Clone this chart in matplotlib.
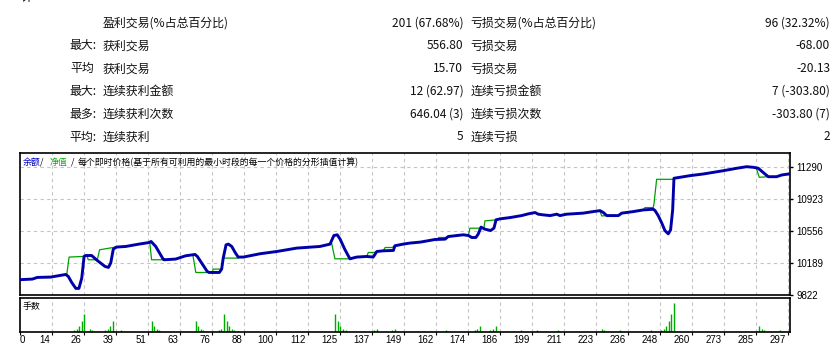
import numpy as np
import matplotlib
matplotlib.use("Agg")
import matplotlib.pyplot as plt

plt.rcParams['font.family'] = ['Noto Sans CJK SC', 'DejaVu Sans']

# ---- report table ----
row_head = ["", "最大:", "平均", "最大:", "最多:", "平均:"]
win_names = ["盈利交易(%占总百分比)", "获利交易", "获利交易", "连续获利金额", "连续获利次数", "连续获利"]
win_values = ["201 (67.68%)", "556.80", "15.70", "12 (62.97)", "646.04 (3)", "5"]
loss_names = ["亏损交易(%占总百分比)", "亏损交易", "亏损交易", "连续亏损金额", "连续亏损次数", "连续亏损"]
loss_values = ["96 (32.32%)", "-68.00", "-20.13", "7 (-303.80)", "-303.80 (7)", "2"]

# ---- balance curve (trade number, value) ----
bal_idx = [0, 4.9, 6.8, 12.0, 17.8, 18.8, 20.1, 21.7, 22.9, 24.0, 24.9, 25.5, 27.8, 30.0, 33.0,
           34.3, 35.2, 36.2, 37.4, 41.0, 46.1, 50.0, 50.8, 52.6, 55.4, 55.8, 60.3, 64.2, 67.8,
           68.7, 72.5, 73.2, 77.2, 78.1, 78.7, 79.8, 80.7, 82.0, 83.3, 84.5, 86.5, 92.9, 99.4,
           107.1, 116.1, 120.0, 121.5, 122.8, 123.9, 125.8, 127.7, 130.3, 134.2, 136.7, 138.1,
           140.6, 144.5, 145.1, 148.3, 150.9, 154.9, 160.6, 164.5, 165.7, 171.5, 173.5, 174.8,
           176.4, 177.3, 178.4, 179.9, 182.1, 183.4, 184.2, 185.7, 189.6, 194.1, 196.7, 199.3,
           200.5, 202.5, 205.1, 207.7, 208.9, 211.5, 217.9, 221.8, 224.4, 225.7, 227.0, 231.5,
           232.8, 237.3, 241.1, 245.0, 245.7, 246.9, 248.3, 249.5, 250.8, 251.7, 252.5, 253.0,
           255.3, 259.2, 264.3, 272.1, 277.3, 281.1, 283.7, 285.6, 288.2, 289.5, 292.7, 294.7, 297.3]
bal_val = [9998, 10005, 10024, 10028, 10058, 10035, 9967, 9898, 9898, 10017, 10265, 10276, 10276,
           10219, 10150, 10139, 10189, 10350, 10373, 10380, 10407, 10425, 10437, 10380, 10238,
           10227, 10235, 10273, 10288, 10265, 10093, 10081, 10081, 10120, 10246, 10399, 10407,
           10380, 10311, 10258, 10258, 10296, 10322, 10361, 10380, 10407, 10506, 10514, 10464,
           10342, 10238, 10258, 10265, 10258, 10322, 10330, 10334, 10388, 10407, 10419, 10430,
           10460, 10464, 10494, 10514, 10506, 10483, 10483, 10522, 10602, 10579, 10563, 10591,
           10686, 10697, 10712, 10735, 10755, 10770, 10751, 10743, 10735, 10751, 10735, 10751,
           10763, 10781, 10792, 10770, 10735, 10735, 10763, 10781, 10800, 10808, 10792, 10735,
           10648, 10563, 10525, 10571, 10800, 11164, 11175, 11194, 11213, 11251, 11279, 11297,
           11290, 11279, 11213, 11182, 11182, 11202, 11213]

# ---- equity where it leaves the balance line (nan = break) ----
nan = np.nan
eq_idx = [17.8, 18.2, 19.1, 24.2, 24.9, nan,
          26.0, 26.5, 30.0, 30.9, 37.1, nan,
          50.3, 51.0, 55.4, 55.8, nan,
          67.0, 68.1, 73.2, nan,
          74.5, 74.8, 78.1, nan,
          78.7, 84.5, 84.8, nan,
          120.3, 120.6, 121.9, 127.7, nan,
          134.2, 134.8, 137.2, 138.1, nan,
          140.6, 141.3, 144.0, 145.1, nan,
          161.5, 162.0, 165.0, 165.7, nan,
          173.5, 174.1, 178.0, 178.4, nan,
          179.5, 179.9, 184.2, nan,
          224.4, 225.1, 227.0, nan,
          241.1, 241.8, 245.0, 245.3, 246.3, 252.7, 253.0, nan,
          284.8, 286.0, 289.5]
eq_val = [10058, 10058, 10258, 10265, 10265, nan,
          10276, 10227, 10227, 10342, 10373, nan,
          10425, 10227, 10227, 10227, nan,
          10273, 10081, 10081, nan,
          10081, 10120, 10120, nan,
          10246, 10246, 10258, nan,
          10412, 10419, 10238, 10238, nan,
          10265, 10311, 10311, 10322, nan,
          10330, 10368, 10368, 10388, nan,
          10462, 10483, 10483, 10494, nan,
          10506, 10590, 10590, 10602, nan,
          10587, 10674, 10686, nan,
          10781, 10731, 10735, nan,
          10800, 10827, 10827, 10877, 11152, 11152, 11164, nan,
          11282, 11175, 11182]

# ---- lots ----
lot_idx = [21, 22, 23, 24, 25, 27, 28, 33, 34, 35, 36, 39, 51, 52, 53, 54, 68, 69, 70, 71,
           77, 78, 79, 80, 81, 82, 83, 122, 123, 124, 125, 126, 137, 138, 144, 145, 165,
           176, 177, 178, 182, 183, 184, 194, 200, 208, 225, 226, 232, 244, 248, 249, 250,
           251, 252, 253, 286, 287, 288, 294]
lot_val = [0.1, 0.15, 0.3, 0.5, 0.8, 0.15, 0.1, 0.1, 0.15, 0.3, 0.5, 0.1, 0.5, 0.3, 0.15, 0.1,
           0.5, 0.3, 0.15, 0.1, 0.1, 0.15, 0.8, 0.5, 0.3, 0.15, 0.1, 0.8, 0.5, 0.3, 0.15, 0.1,
           0.1, 0.15, 0.1, 0.15, 0.1, 0.1, 0.15, 0.3, 0.1, 0.15, 0.3, 0.1, 0.1, 0.1, 0.15, 0.1,
           0.1, 0.1, 0.1, 0.15, 0.3, 0.5, 0.8, 1.3, 0.3, 0.15, 0.1, 0.1]

x_labels = ["0", "14", "26", "39", "51", "63", "76", "88", "100", "112", "125", "137", "149",
            "162", "174", "186", "199", "211", "223", "236", "248", "260", "273", "285", "297"]
y_ticks = [9822, 10189, 10556, 10923, 11290]

W, H = 839, 352
fig = plt.figure(figsize=(W / 100, H / 100), dpi=100)

# table
rows_y = [22.7, 45.7, 68.7, 91.5, 114.5, 137]
fs = 8.6
txt = '#101010'
fig.text(20 / W, 1 + 2 / H, "计", fontsize=fs, va='center', color=txt)
for i, y in enumerate(rows_y):
    yy = 1 - y / H
    hx = 94.5 if row_head[i] == "平均" else 96.5
    fig.text(hx / W, yy, row_head[i], fontsize=fs, ha='right', va='center', color=txt)
    fig.text(102.7 / W, yy, win_names[i], fontsize=fs, ha='left', va='center', color=txt)
    fig.text(463.3 / W, yy, win_values[i], fontsize=fs, ha='right', va='center', color=txt)
    fig.text(470.7 / W, yy, loss_names[i], fontsize=fs, ha='left', va='center', color=txt)
    fig.text(830 / W, yy, loss_values[i], fontsize=fs, ha='right', va='center', color=txt)

left, right = 19.7, 790
ax = fig.add_axes([left / W, 1 - 295.0 / H, (right - left) / W, (295.0 - 153.3) / H])
ax2 = fig.add_axes([left / W, 1 - 332.3 / H, (right - left) / W, (332.3 - 298.3) / H])

xmax = (right - left) / 2.586
step = 297 / 24
xpos = [k * step for k in range(len(x_labels))]

grid_kw = dict(color='#c4c4c4', lw=0.8, linestyle=(0, (3, 3)), zorder=0)
for a in (ax, ax2):
    a.set_xlim(0, xmax)
    for p in xpos[1:]:
        a.axvline(p, **grid_kw)
    for s in a.spines.values():
        s.set_linewidth(1.2)
        s.set_color('black')
    a.set_xticks([])

for v in y_ticks[1:]:
    ax.axhline(v, **grid_kw)

ax.plot(eq_idx, eq_val, color='#00a000', lw=0.9, zorder=2)
ax.plot(bal_idx, bal_val, color='#0000aa', lw=2.1, zorder=3, solid_joinstyle='round')
ax.set_ylim(9822, 11451)
ax.yaxis.tick_right()
ax.set_yticks(y_ticks)
ax.set_yticklabels([str(v) for v in y_ticks], family='Liberation Sans')
ax.tick_params(axis='y', length=2.2, width=1, pad=2.3, labelsize=7, colors='black')

ax2.vlines(lot_idx, 0, lot_val, color='#00aa00', lw=1.0)
ax2.set_ylim(0, 34 / 22.5)
ax2.set_yticks([])
ax2.set_xticks(xpos)
ax2.set_xticklabels([])
ax2.tick_params(axis='x', length=2, width=0.8, direction='out')
for k, lab in enumerate(x_labels):
    if k == 0:
        ax2.annotate(lab, xy=(xpos[k], 0), xycoords=('data', 'axes fraction'),
                     xytext=(0.3, -5.6), textcoords='offset points',
                     ha='left', va='center', fontsize=7, family='Liberation Sans')
    else:
        ax2.annotate(lab, xy=(xpos[k], 0), xycoords=('data', 'axes fraction'),
                     xytext=(-1.3, -5.6), textcoords='offset points',
                     ha='right', va='center', fontsize=7, family='Liberation Sans')

# legend inside the chart
ly = 1 - 162 / H
lfs = 6.4
fig.text(23 / W, ly, "余额", fontsize=lfs, color='#0000c0', va='center')
fig.text(40 / W, ly, "/", fontsize=lfs, color='black', va='center')
fig.text(50 / W, ly, "净值", fontsize=lfs, color='#00b000', va='center')
fig.text(70.5 / W, ly, "/", fontsize=lfs, color='black', va='center')
fig.text(77.3 / W, ly, "每个即时价格(基于所有可利用的最小时段的每一个价格的分形插值计算)",
         fontsize=lfs, color='black', va='center')
fig.text(23 / W, 1 - 307 / H, "手数", fontsize=lfs, color='black', va='center')

fig.savefig("out.png", dpi=100)
